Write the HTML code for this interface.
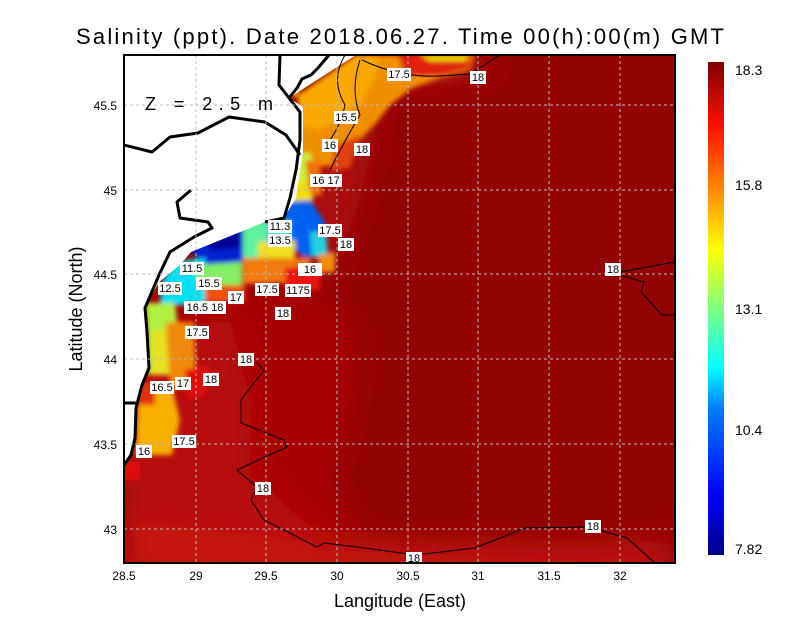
<!DOCTYPE html>
<html><head><meta charset="utf-8"><style>
body{margin:0;background:#fff;}
svg{display:block;font-family:"Liberation Sans",sans-serif;}
</style></head><body>
<svg width="800" height="618" viewBox="0 0 800 618" xmlns="http://www.w3.org/2000/svg">
<defs>
<linearGradient id="cb" x1="0" y1="1" x2="0" y2="0">
<stop offset="0" stop-color="#00008a"/>
<stop offset="0.12" stop-color="#0000ff"/>
<stop offset="0.3" stop-color="#0080ff"/>
<stop offset="0.38" stop-color="#00ffff"/>
<stop offset="0.5" stop-color="#80ff80"/>
<stop offset="0.62" stop-color="#ffff00"/>
<stop offset="0.75" stop-color="#ff8000"/>
<stop offset="0.87" stop-color="#ff1000"/>
<stop offset="1" stop-color="#800000"/>
</linearGradient>
<filter id="bl" filterUnits="userSpaceOnUse" x="0" y="0" width="800" height="618"><feGaussianBlur stdDeviation="14"/></filter>
<filter id="bl2" filterUnits="userSpaceOnUse" x="0" y="0" width="800" height="618"><feGaussianBlur stdDeviation="2.5"/></filter>
<clipPath id="pc"><rect x="124" y="55" width="551" height="508"/></clipPath>
</defs>
<text x="76" y="44" font-size="22" textLength="648" lengthAdjust="spacing" fill="#000">Salinity (ppt). Date 2018.06.27. Time 00(h):00(m) GMT</text>
<g clip-path="url(#pc)">
<rect x="124" y="55" width="551" height="508" fill="#930303"/>
<g filter="url(#bl)">
<path d="M124 290 L250 280 L330 300 L360 340 L350 420 L330 480 L360 540 L124 563Z" fill="#a80606"/>
<path d="M124 330 L230 320 L250 400 L250 480 L124 480Z" fill="#b80c08"/>
<path d="M124 460 L260 480 L320 540 L450 555 L560 550 L640 540 L675 545 L675 580 L124 580Z" fill="#b80c08"/>
<path d="M124 520 L300 540 L640 550 L640 580 L124 580Z" fill="#c81208"/>
<path d="M300 110 L380 110 L360 200 L330 280 L300 280Z" fill="#ad0a08"/>
<path d="M400 55 L500 55 L480 80 L400 90Z" fill="#b40a08"/>
</g>
<g filter="url(#bl2)">
<path d="M356 55 L475 55 L470 70 L440 78 L412 88 L390 105 L377 122 L352 148 L335 165 L300 168 L298 100 Z" fill="#f09000"/>
<path d="M356 55 L380 55 L375 78 L360 105 L320 130 L300 125 L298 95Z" fill="#f8a800"/>
<path d="M398 55 L472 55 L470 68 L440 76 L405 76Z" fill="#e02008"/>
<path d="M420 55 L470 55 L465 61 L430 61Z" fill="#f0e000"/>
<path d="M280 75 L298 75 L298 97 L285 95Z" fill="#f0a000"/>
<path d="M335 145 L360 135 L350 168 L330 172Z" fill="#e04010"/>
<path d="M291 155 L310 153 L318 178 L312 202 L292 204 L287 185Z" fill="#c8f040"/>
<path d="M290 182 L312 180 L312 204 L292 204Z" fill="#f0e000"/>
<path d="M305 160 L320 162 L322 195 L310 195Z" fill="#f07010"/>
<path d="M285 202 L310 200 L325 222 L322 250 L305 258 L290 245 L282 218Z" fill="#0060f0"/>
<path d="M310 232 L326 232 L328 256 L312 258Z" fill="#20d0e0"/>
<path d="M318 255 L335 252 L335 272 L320 272Z" fill="#f09010"/>
<path d="M191 252 L200 232 L243 224 L243 262 L205 265Z" fill="#0020d0"/>
<path d="M205 232 L240 226 L240 248 L210 250Z" fill="#000098"/>
<path d="M243 222 L268 220 L268 255 L243 262Z" fill="#60f0a0"/>
<path d="M258 242 L295 240 L295 262 L258 264Z" fill="#f0e020"/>
<path d="M243 258 L310 258 L310 282 L243 284Z" fill="#f07a10"/>
<path d="M265 224 L290 220 L290 242 L268 242Z" fill="#30e0d0"/>
<path d="M285 268 L320 265 L320 290 L285 290Z" fill="#e81808"/>
<path d="M175 262 L205 258 L205 305 L160 305 L162 282Z" fill="#00e0f0"/>
<path d="M194 265 L242 262 L242 288 L200 288Z" fill="#80f060"/>
<path d="M205 285 L245 285 L245 302 L205 302Z" fill="#f05010"/>
<path d="M145 303 L175 303 L178 330 L170 375 L148 375 L147 330Z" fill="#b0f040"/>
<path d="M152 330 L172 330 L175 375 L152 375Z" fill="#e8e020"/>
<path d="M166 322 L194 322 L196 388 L170 388Z" fill="#f08a10"/>
<path d="M138 388 L172 388 L180 420 L172 455 L136 455Z" fill="#f8b000"/>
<path d="M138 383 L155 383 L155 405 L138 405Z" fill="#e03010"/>
<path d="M185 370 L210 365 L205 395 L188 400Z" fill="#e01008"/>
<path d="M124 462 L140 462 L140 480 L124 480Z" fill="#e01008"/>
</g>
<path d="M124 55 L356 55 L320 78 L289 98 L303 107 L303 152 L296 198 L284 218 L265 222 L191 252 L180 265 L159 282 L145 308 L147 332 L149 368 L142 385 L136 408 L135 438 L131 455 L124 465 Z" fill="#fff"/>
<g fill="none" stroke="#000" stroke-width="3" stroke-linejoin="round">
<path d="M280 55 L279 85 L289 98 L300 112 L300 140 L296 170 L290 198 L284 218 L275 220 L265 222"/>
<path d="M124 145 L152 152 L170 137 L198 133 L229 117 L265 122 L286 135 L300 155"/>
<path d="M191 190 L177 202 L180 218 L208 222 L212 228 L194 237 L170 252 L159 275 L145 308 L147 332 L149 368 L142 385 L136 408 L135 438 L131 455 L124 465"/>
<path d="M329 55 L318 68 L311 75 L302 79 L297 88 L289 98"/>
<path d="M124 403 L138 403"/>
</g>
<g fill="none" stroke="#000" stroke-width="1">
<path d="M362 60 Q400 78 440 76 L470 74 L500 55"/>
<path d="M345 55 Q330 80 345 105 Q340 130 322 150"/>
<path d="M360 60 Q350 90 360 115 Q345 140 330 170"/>
<path d="M257 363 L264 370 L241 400 L241 423 L284 440 L287 447 L237 470 L257 487 L251 500 L264 520 L284 530 L317 547 L324 543 L357 547 L416 555 L475 548 L525 528 L588 527 L627 538 L655 563"/>
<path d="M609 272 L644 282 L641 292 L662 315 L675 315"/>
<path d="M620 272 L675 262"/>
</g>
</g>
<g stroke="#bbb" stroke-width="1" stroke-dasharray="3,3">
<line x1="196" y1="55" x2="196" y2="563"/><line x1="266" y1="55" x2="266" y2="563"/>
<line x1="337" y1="55" x2="337" y2="563"/><line x1="408" y1="55" x2="408" y2="563"/>
<line x1="478" y1="55" x2="478" y2="563"/><line x1="549" y1="55" x2="549" y2="563"/>
<line x1="620" y1="55" x2="620" y2="563"/>
<line x1="124" y1="105" x2="675" y2="105"/><line x1="124" y1="190" x2="675" y2="190"/>
<line x1="124" y1="274" x2="675" y2="274"/><line x1="124" y1="359" x2="675" y2="359"/>
<line x1="124" y1="444" x2="675" y2="444"/><line x1="124" y1="529" x2="675" y2="529"/>
</g>
<text x="145" y="110" font-size="18" fill="#000" textLength="128" lengthAdjust="spacing">Z = 2.5 m</text>
<g font-size="11" text-anchor="middle">
<g fill="#fff">
<rect x="387" y="68" width="24" height="13"/><rect x="470" y="71" width="16" height="13"/>
<rect x="334" y="111" width="24" height="13"/><rect x="322" y="139" width="16" height="13"/>
<rect x="354" y="143" width="16" height="13"/><rect x="310" y="174" width="32" height="13"/>
<rect x="318" y="224" width="24" height="13"/><rect x="338" y="238" width="16" height="13"/>
<rect x="605" y="263" width="16" height="13"/><rect x="255" y="283" width="24" height="13"/>
<rect x="285" y="284" width="26" height="13"/><rect x="228" y="291" width="16" height="13"/>
<rect x="275" y="307" width="16" height="13"/><rect x="184" y="301" width="42" height="13"/>
<rect x="185" y="326" width="24" height="13"/><rect x="238" y="353" width="16" height="13"/>
<rect x="203" y="373" width="16" height="13"/><rect x="175" y="377" width="16" height="13"/>
<rect x="150" y="381" width="24" height="13"/><rect x="172" y="435" width="24" height="13"/>
<rect x="136" y="445" width="16" height="13"/><rect x="255" y="482" width="16" height="13"/>
<rect x="585" y="520" width="16" height="13"/><rect x="406" y="552" width="16" height="13"/>
<rect x="180" y="262" width="24" height="13"/><rect x="158" y="282" width="24" height="13"/>
<rect x="196" y="277" width="26" height="13"/><rect x="268" y="220" width="24" height="13"/>
<rect x="268" y="234" width="24" height="13"/><rect x="298" y="263" width="24" height="13"/>
</g>
<text x="399" y="78">17.5</text><text x="478" y="81">18</text><text x="346" y="121">15.5</text>
<text x="330" y="149">16</text><text x="362" y="153">18</text><text x="326" y="184">16 17</text>
<text x="330" y="234">17.5</text><text x="346" y="248">18</text><text x="613" y="273">18</text>
<text x="267" y="293">17.5</text><text x="298" y="294">1175</text><text x="236" y="301">17</text>
<text x="283" y="317">18</text><text x="205" y="311">16.5 18</text><text x="197" y="336">17.5</text>
<text x="246" y="363">18</text><text x="211" y="383">18</text><text x="183" y="387">17</text>
<text x="162" y="391">16.5</text><text x="184" y="445">17.5</text><text x="144" y="455">16</text>
<text x="263" y="492">18</text><text x="593" y="530">18</text><text x="414" y="562">18</text>
<text x="192" y="272">11.5</text><text x="170" y="292">12.5</text><text x="209" y="287">15.5</text>
<text x="280" y="230">11.3</text><text x="280" y="244">13.5</text><text x="310" y="273">16</text>
</g>
<rect x="124" y="55" width="551" height="508" fill="none" stroke="#000" stroke-width="2"/>
<g font-size="12" fill="#000" text-anchor="middle">
<text x="124" y="580">28.5</text><text x="196" y="580">29</text><text x="266" y="580">29.5</text>
<text x="337" y="580">30</text><text x="408" y="580">30.5</text><text x="478" y="580">31</text>
<text x="549" y="580">31.5</text><text x="620" y="580">32</text>
</g>
<g font-size="12" fill="#000" text-anchor="end">
<text x="117" y="110">45.5</text><text x="117" y="195">45</text><text x="117" y="279">44.5</text>
<text x="117" y="364">44</text><text x="117" y="449">43.5</text><text x="117" y="534">43</text>
</g>
<text x="400" y="607" font-size="18" text-anchor="middle">Langitude (East)</text>
<text transform="translate(82,309) rotate(-90)" font-size="18" text-anchor="middle">Latitude (North)</text>
<rect x="708" y="62" width="16" height="493" fill="url(#cb)"/>
<g font-size="14" fill="#000">
<text x="735" y="75">18.3</text><text x="735" y="190">15.8</text><text x="735" y="314">13.1</text>
<text x="735" y="435">10.4</text><text x="735" y="554">7.82</text>
</g>
</svg>
</body></html>
